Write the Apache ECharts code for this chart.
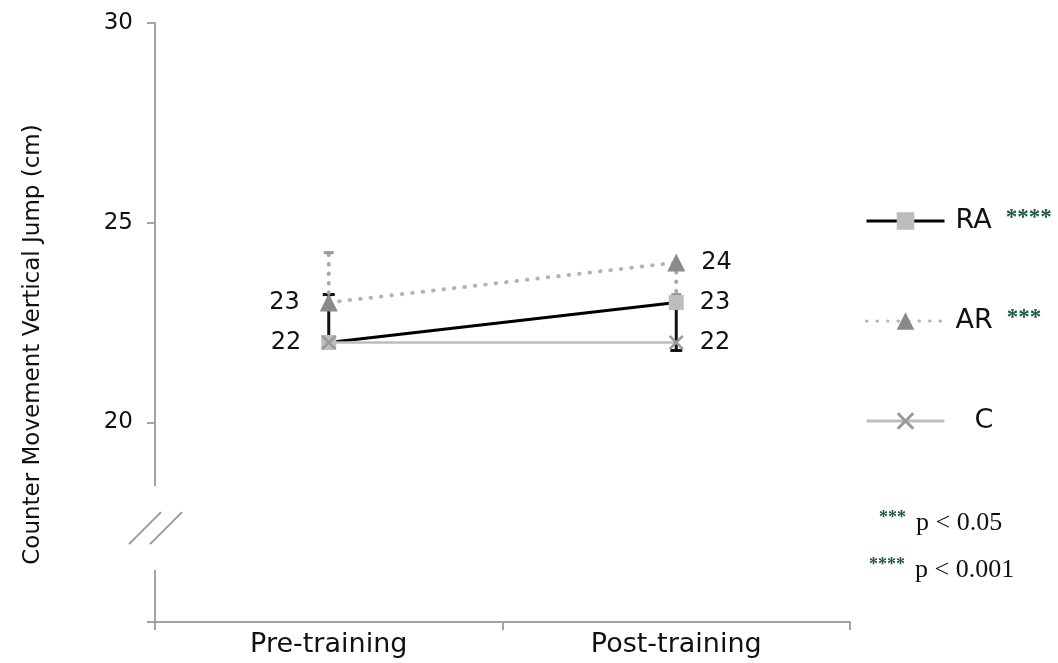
<!DOCTYPE html>
<html><head><meta charset="utf-8">
<script src="https://cdn.jsdelivr.net/npm/echarts@6/dist/echarts.min.js"></script>
<style>html,body{margin:0;padding:0;background:#fff}#c{width:1058px;height:663px}</style>
</head><body><div id="c"></div>
<script>
const categories = ['Pre-training', 'Post-training'];
const seriesNames = ['RA', 'AR', 'C'];
const raValues = [22, 23];
const arValues = [23, 24];
const cValues = [22, 22];
const raErrorEnds = [23.2, 21.8];
const arErrorEnds = [24.25, 23.2];
const sigMarks = ['****', '***', ''];
const yTicks = [20, 25, 30];
const yMin = 15, yMax = 30, yStep = 5;
const axisBreak = [16.3, 18.4];
const footnotes = [['***', 'p < 0.05'], ['****', 'p < 0.001']];
const labelSides = {RA: ['left', 'right'], AR: ['left', 'right'], C: [null, 'right']};

const FONT = 'DejaVu Sans';
const gridLeft = 155, gridRight = 208, gridTop = 23, gridBottom = 41;
const axisColor = '#a3a3a3';
const teal = '#1f5a4c';

function pointData(vals, name) {
  return vals.map((v, i) => {
    const side = labelSides[name][i];
    return {value: v, label: side ? {show: true, position: side, distance: side === 'left' ? 20 : 16} : {show: false}};
  });
}
function errData(vals, ends) {
  return vals.map((v, i) => [i, v, ends[i]]);
}
function errRender(color, width, dash, capColor, cap) {
  return function (params, api) {
    const x = api.value(0), v = api.value(1), e = api.value(2);
    const p0 = api.coord([x, v]);
    const p1 = api.coord([x, e]);
    return {type: 'group', children: [
      {type: 'line', shape: {x1: p0[0], y1: p0[1], x2: p1[0], y2: p1[1]},
       style: {stroke: color, lineWidth: width, lineDash: dash, lineCap: 'round'}},
      {type: 'line', shape: {x1: p1[0] - cap, y1: p1[1], x2: p1[0] + cap, y2: p1[1]},
       style: {stroke: capColor, lineWidth: 3}}
    ]};
  };
}
const xSymbol = 'path://M0,1.2 L1.2,0 L5,3.8 L8.8,0 L10,1.2 L6.2,5 L10,8.8 L8.8,10 L5,6.2 L1.2,10 L0,8.8 L3.8,5 Z';
const labelStyle = {fontFamily: FONT, fontSize: 24, color: '#111'};

const chart = echarts.init(document.getElementById('c'));
const option = {
  backgroundColor: '#fff',
  animation: false,
  grid: {left: gridLeft, right: gridRight, top: gridTop, bottom: gridBottom},
  xAxis: {
    type: 'category', data: categories, boundaryGap: true,
    axisLine: {lineStyle: {color: axisColor, width: 2}},
    axisTick: {show: true, length: 8, lineStyle: {color: axisColor, width: 2}},
    axisLabel: {fontFamily: FONT, fontSize: 27, color: '#111', margin: 9}
  },
  yAxis: {
    type: 'value', min: yMin, max: yMax, interval: yStep,
    name: 'Counter Movement Vertical Jump (cm)', nameLocation: 'middle', nameGap: 110,
    nameTextStyle: {fontFamily: FONT, fontSize: 23, color: '#111', padding: [0, 44, 0, 0]},
    splitLine: {show: false},
    axisLine: {show: true, lineStyle: {color: axisColor, width: 2}},
    axisTick: {show: true, length: 8, lineStyle: {color: axisColor, width: 2}},
    axisLabel: {fontFamily: FONT, fontSize: 23, color: '#111', margin: 22,
      formatter: v => yTicks.includes(v) ? String(v) : ''}
  },
  legend: {
    orient: 'vertical', left: 860, top: 201, itemWidth: 78, itemHeight: 22, itemGap: 70,
    data: seriesNames,
    lineStyle: {width: 3},
    textStyle: {fontFamily: FONT, fontSize: 27, color: '#111', lineHeight: 30,
      rich: {
        n: {fontFamily: FONT, fontSize: 27, color: '#111', padding: [0, 0, 0, 6]},
        c: {fontFamily: FONT, fontSize: 27, color: '#111', padding: [0, 0, 0, 25]},
        s: {fontFamily: 'Liberation Serif', fontSize: 23, fontWeight: 'bold', color: teal, padding: [0, 0, 6, 14]}
      }},
    formatter: name => {
      const i = seriesNames.indexOf(name);
      return sigMarks[i] ? '{n|' + name + '}{s|' + sigMarks[i] + '}' : '{c|' + name + '}';
    }
  },
  series: [
    {type: 'custom', name: 'RA-err', z: 1, renderItem: errRender('#111', 3, null, '#111', 6),
     data: errData(raValues, raErrorEnds), silent: true},
    {type: 'custom', name: 'AR-err', z: 1, renderItem: errRender('#a8a8a8', 4, [0.5, 9], '#9a9a9a', 5),
     data: errData(arValues, arErrorEnds), silent: true},
    {type: 'line', name: 'RA', z: 3, data: pointData(raValues, 'RA'),
     lineStyle: {color: '#000', width: 3}, itemStyle: {color: '#bdbdbd'},
     symbol: 'rect', symbolSize: 15, label: labelStyle},
    {type: 'line', name: 'AR', z: 3, data: pointData(arValues, 'AR'),
     lineStyle: {color: '#b3b3b3', width: 4, type: [0.5, 10], cap: 'round'}, itemStyle: {color: '#8a8a8a'},
     symbol: 'triangle', symbolSize: 18, label: labelStyle},
    {type: 'line', name: 'C', z: 4, data: pointData(cValues, 'C'),
     lineStyle: {color: '#bdbdbd', width: 2.5}, itemStyle: {color: '#999'},
     symbol: xSymbol, symbolSize: 15, label: labelStyle}
  ]
};
chart.setOption(option);

const yTopPx = chart.convertToPixel({yAxisIndex: 0}, axisBreak[1]);
const yBotPx = chart.convertToPixel({yAxisIndex: 0}, axisBreak[0]);
const mid = (yTopPx + yBotPx) / 2;
const graphics = [
  {type: 'rect', shape: {x: gridLeft - 5, y: yTopPx, width: 10, height: yBotPx - yTopPx}, style: {fill: '#fff'}, z: 100},
  {type: 'line', shape: {x1: gridLeft - 26, y1: mid + 16, x2: gridLeft + 6, y2: mid - 16}, style: {stroke: '#999', lineWidth: 2}, z: 101},
  {type: 'line', shape: {x1: gridLeft - 5, y1: mid + 16, x2: gridLeft + 27, y2: mid - 16}, style: {stroke: '#999', lineWidth: 2}, z: 101}
];
footnotes.forEach((f, i) => {
  graphics.push({
    type: 'text', left: i === 0 ? 879 : 869, top: i === 0 ? 509 : 556, z: 101,
    style: {
      text: '{s|' + f[0] + '}{p|' + f[1] + '}',
      rich: {
        s: {fontFamily: 'Liberation Serif', fontSize: 18, fontWeight: 'bold', fill: teal, padding: [0, 10, 11, 0]},
        p: {fontFamily: 'Liberation Serif', fontSize: 26, fill: '#111'}
      }
    }
  });
});
chart.setOption({graphic: graphics});
</script>
</body></html>
